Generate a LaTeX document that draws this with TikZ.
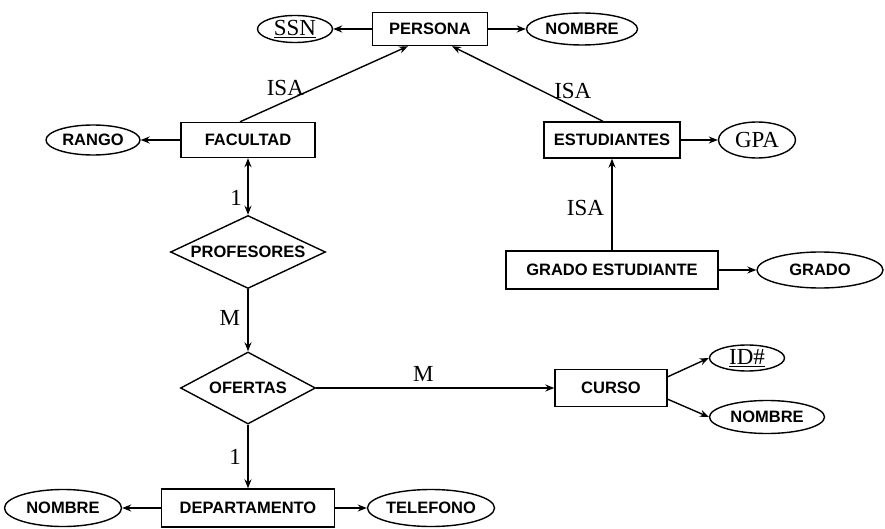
\documentclass[tikz,border=0pt]{standalone}
\usepackage{fontspec}
\setmainfont{Liberation Serif}
\setsansfont{Liberation Sans}
\usetikzlibrary{shapes.geometric,arrows.meta}

\begin{document}
\begin{tikzpicture}[
  x=1pt, y=-1pt,
  >={Stealth[length=9pt,width=7pt,inset=3pt]}, line width=1.4pt,
  every node/.style={font=\fontsize{16.5}{18}\selectfont\sffamily\bfseries},
  entity node/.style={rectangle,draw,inner sep=0pt},
  attr node/.style={ellipse,draw,inner sep=0pt},
  rel node/.style={diamond,draw,inner sep=0pt,aspect=2.1},
  card label/.style={font=\fontsize{23}{25}\selectfont\rmfamily}
]
\useasboundingbox (0,0) rectangle (885,529);

\node[entity node, minimum width=115pt, minimum height=33pt] (persona) at (430,29) {PERSONA};
\node[attr node, minimum width=75pt, minimum height=27pt, card label] (ssn) at (295,29) {\underline{SSN}};
\node[attr node, minimum width=111pt, minimum height=32pt] (pnombre) at (582,29) {NOMBRE};

\node[entity node, minimum width=134pt, minimum height=35pt] (facultad) at (248,140) {FACULTAD};
\node[attr node, minimum width=94pt, minimum height=30pt] (rango) at (93,140) {RANGO};

\node[entity node, minimum width=136pt, minimum height=36pt] (estudiantes) at (612,140) {ESTUDIANTES};
\node[attr node, minimum width=77pt, minimum height=36pt, card label] (gpa) at (757,140) {GPA};

\node[entity node, minimum width=212pt, minimum height=38pt] (gradoest) at (612,270) {GRADO ESTUDIANTE};
\node[attr node, minimum width=126pt, minimum height=36pt] (grado) at (820,270) {GRADO};

\node[rel node, minimum width=155pt, minimum height=73pt] (profesores) at (248,252) {PROFESORES};
\node[rel node, minimum width=135pt, minimum height=72pt] (ofertas) at (248,388) {OFERTAS};

\node[entity node, minimum width=112pt, minimum height=37pt] (curso) at (611,388) {CURSO};
\node[attr node, minimum width=75pt, minimum height=26pt, card label] (idn) at (747,358) {\underline{ID\#}};
\node[attr node, minimum width=115pt, minimum height=33pt] (cnombre) at (767,417) {NOMBRE};

\node[entity node, minimum width=173pt, minimum height=38pt] (departamento) at (248,508) {DEPARTAMENTO};
\node[attr node, minimum width=117pt, minimum height=37pt] (dnombre) at (63,508) {NOMBRE};
\node[attr node, minimum width=117pt, minimum height=37pt] (telefono) at (431,508) {TELEFONO};

\draw[->] (persona) -- (ssn);
\draw[->] (persona) -- (pnombre);
\draw[->] (facultad) -- (rango);
\draw[->] (estudiantes) -- (gpa);
\draw[->] (gradoest) -- (grado);
\draw[->] (departamento) -- (dnombre);
\draw[->] (departamento) -- (telefono);

\draw[->] ([xshift=-8pt]facultad.north) -- ([xshift=-22pt]persona.south)
  node[pos=.27, above=2pt, card label] {ISA};
\draw[->] ([xshift=-9pt]estudiantes.north) -- ([xshift=22pt]persona.south)
  node[pos=.2, above=4pt, card label] {ISA};
\draw[->] (gradoest.north) -- (estudiantes.south)
  node[pos=.46, left=4pt, card label] {ISA};

\draw[<->] (facultad.south) -- (profesores.north)
  node[pos=.7, left=2pt, card label] {1};
\draw[->] (profesores.south) -- (ofertas.north)
  node[pos=.47, left=4pt, card label] {M};
\draw[->] (ofertas.east) -- (curso.west)
  node[pos=.45, above=2pt, card label] {M};
\draw[->] (ofertas.south) -- (departamento.north)
  node[pos=.5, left=3pt, card label] {1};

\draw[->] ([yshift=-8pt]curso.north east) -- (idn.west);
\draw[->] ([yshift=8pt]curso.south east) -- (cnombre.west);
\end{tikzpicture}
\end{document}
